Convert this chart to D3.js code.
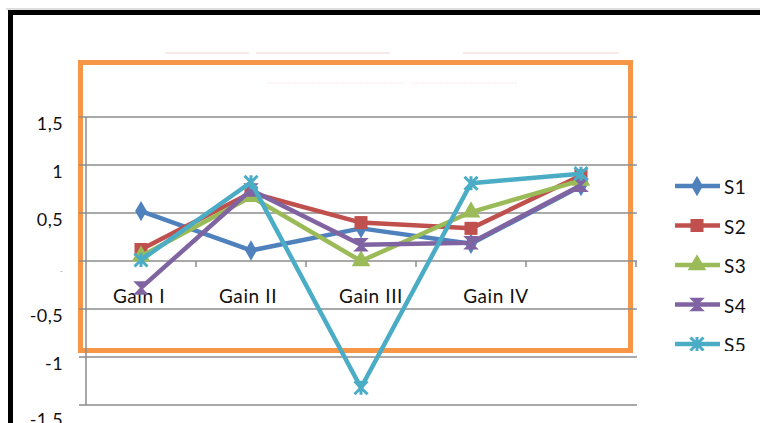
<!DOCTYPE html>
<meta charset="utf-8">
<script src="https://d3js.org/d3.v7.min.js"></script>
<style>
  body { margin: 0; background: #fff; }
  svg { display: block; }
  .lbl { font-family: Lato, 'Open Sans', sans-serif; font-size: 18px; fill: #111; letter-spacing: 0.4px; }
  .cat { font-size: 19px; letter-spacing: 0.6px; }
</style>
<div id="chart"></div>
<script>

// data
const categories = ["Gain I", "Gain II", "Gain III", "Gain IV", ""];
const seriesNames = ["S1", "S2", "S3", "S4", "S5"];
const s1 = [0.52, 0.11, 0.34, 0.18, 0.78];
const s2 = [0.12, 0.71, 0.40, 0.34, 0.89];
const s3 = [0.05, 0.67, 0.00, 0.51, 0.84];
const s4 = [-0.28, 0.74, 0.17, 0.19, 0.79];
const s5 = [0.01, 0.82, -1.32, 0.81, 0.91];
const yTicks = [1.5, 1, 0.5, 0, -0.5, -1, -1.5];
const yTickLabels = ["1,5", "1", "0,5", "-", "-0,5", "-1", "-1,5"];

// the source's labels sit a little off their ticks
const labelNudge = [-2, -3, 10, 25, 0];
const yLabelNudge = [13, 13, 13, 13, 13, 13, 21];

const colors = ["#4f81bd", "#c0504d", "#9bbb59", "#8064a2", "#4bacc6"];
const allSeries = [s1, s2, s3, s4, s5];

const W = 760, H = 423;
const svg = d3.select("#chart").append("svg")
  .attr("width", W).attr("height", H);

// faint leftover title strokes
const faint = svg.append("g").attr("stroke", "#f8e2e2").attr("stroke-width", 1.5);
[[165, 249, 53], [256, 390, 53], [463, 619, 53]].forEach(s =>
  faint.append("line").attr("x1", s[0]).attr("x2", s[1]).attr("y1", s[2]).attr("y2", s[2]));
const faint2 = svg.append("g").attr("stroke", "#f9e8e8").attr("stroke-width", 1).attr("stroke-dasharray", "2,1");
[[267, 405, 83], [413, 518, 83]].forEach(s =>
  faint2.append("line").attr("x1", s[0]).attr("x2", s[1]).attr("y1", s[2]).attr("y2", s[2]));

// frame
svg.append("line").attr("x1", 6).attr("x2", W).attr("y1", 9).attr("y2", 9)
  .attr("stroke", "#bbb").attr("stroke-width", 1);
svg.append("path")
  .attr("d", `M10.5,${H + 5} V12.5 H${W + 5}`)
  .attr("fill", "none").attr("stroke", "#000").attr("stroke-width", 5);

// orange overlay box
svg.append("rect")
  .attr("x", 80.5).attr("y", 62.5).attr("width", 550).attr("height", 288)
  .attr("fill", "none").attr("stroke", "#f79646").attr("stroke-width", 5);

// scales
const x = d3.scaleBand().domain(categories).range([86, 636]);
const cx = d => x(d) + x.bandwidth() / 2;
const y = d3.scaleLinear().domain([-1.5, 1.5]).range([405, 117]);

// gridlines
svg.append("g")
  .selectAll("line")
  .data(yTicks.filter(t => t !== 0))
  .join("line")
    .attr("x1", 79).attr("x2", 637)
    .attr("y1", d => y(d)).attr("y2", d => y(d))
    .attr("stroke", "#8c8c8c").attr("stroke-width", 1.5);

// y axis line
svg.append("line")
  .attr("x1", 86).attr("x2", 86).attr("y1", y(1.5)).attr("y2", y(-1.5))
  .attr("stroke", "#8c8c8c").attr("stroke-width", 1.5);

// x axis at 0
const xAxis = svg.append("g")
  .attr("transform", `translate(0,${y(0)})`)
  .call(d3.axisBottom(x).tickSize(0).tickFormat(""));
xAxis.select(".domain").attr("stroke", "#8c8c8c").attr("stroke-width", 1.5)
  .attr("d", "M79,0H637");
xAxis.selectAll(".tick").remove();
xAxis.selectAll(".bound")
  .data(categories)
  .join("line")
    .attr("x1", d => x(d) + x.bandwidth()).attr("x2", d => x(d) + x.bandwidth())
    .attr("y1", 0).attr("y2", 6)
    .attr("stroke", "#8c8c8c").attr("stroke-width", 1.5);
xAxis.selectAll(".cat")
  .data(categories)
  .join("text")
    .attr("class", "lbl cat")
    .attr("x", (d, i) => cx(d) + labelNudge[i])
    .attr("y", 42)
    .attr("text-anchor", "middle")
    .text(d => d);

// y tick labels
svg.append("g")
  .selectAll("text")
  .data(yTicks)
  .join("text")
    .attr("class", "lbl")
    .attr("x", 63)
    .attr("y", (d, i) => y(d) + yLabelNudge[i])
    .attr("text-anchor", "end")
    .style("font-size", (d, i) => yTickLabels[i] === "-" ? "8px" : null)
    .style("fill", (d, i) => yTickLabels[i] === "-" ? "#999" : null)
    .text((d, i) => yTickLabels[i]);

// markers
function marker(sel, i) {
  const c = colors[i];
  if (i === 0) sel.append("path").attr("d", d3.symbol(d3.symbolDiamond, 120)()).attr("fill", c);
  if (i === 1) sel.append("path").attr("d", d3.symbol(d3.symbolSquare, 170)()).attr("fill", c);
  if (i === 2) sel.append("path").attr("d", d3.symbol(d3.symbolTriangle, 150)()).attr("fill", c);
  if (i === 3) sel.append("path").attr("d", "M-6,-6H6L-6,6H6Z").attr("fill", c)
    .attr("stroke", c).attr("stroke-width", 1.5);
  if (i === 4) sel.append("path").attr("d", "M-6.5,-6.5L6.5,6.5M6.5,-6.5L-6.5,6.5M0,-7V7")
    .attr("fill", "none").attr("stroke", c).attr("stroke-width", 3);
}

const line = d3.line().x((d, j) => cx(categories[j])).y(d => y(d));

allSeries.forEach((vals, i) => {
  const g = svg.append("g");
  g.append("path")
    .attr("d", line(vals))
    .attr("fill", "none")
    .attr("stroke", colors[i])
    .attr("stroke-width", 4.5)
    .attr("stroke-linejoin", "round");
  vals.forEach((v, j) => {
    const m = g.append("g").attr("transform", `translate(${cx(categories[j])},${y(v)})`);
    marker(m, i);
  });
});

// legend (clipped like the source)
svg.append("clipPath").attr("id", "legclip")
  .append("rect").attr("x", 660).attr("y", 150).attr("width", 100).attr("height", 201);
const legend = svg.append("g").attr("clip-path", "url(#legclip)");
seriesNames.forEach((name, i) => {
  const ly = 186 + i * 39.5;
  legend.append("line")
    .attr("x1", 675).attr("x2", 720).attr("y1", ly).attr("y2", ly)
    .attr("stroke", colors[i]).attr("stroke-width", 4.5);
  marker(legend.append("g").attr("transform", `translate(697,${ly})`), i);
  legend.append("text")
    .attr("class", "lbl")
    .attr("x", 724).attr("y", ly + 8)
    .style("font-size", "19px")
    .text(name);
});

</script>
